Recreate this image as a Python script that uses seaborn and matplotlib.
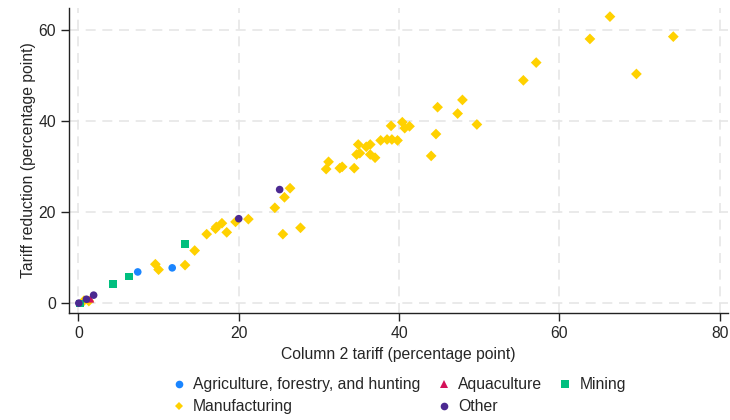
import matplotlib
matplotlib.use("Agg")
import matplotlib.pyplot as plt
import seaborn as sns
import pandas as pd
from matplotlib.lines import Line2D

# Column 2 tariff (x) vs tariff reduction (y), by sector
MANUF_X = [0.7, 1.3, 9.6, 10.0, 13.3, 14.5, 16.0, 17.1, 17.2, 17.9, 18.5, 19.6,
           21.2, 24.5, 25.5, 25.7, 26.4, 27.7, 30.9, 31.2, 32.6, 32.9, 34.4, 34.7,
           35.1, 34.9, 35.9, 36.4, 36.4, 37.0, 37.7, 38.5, 39.1, 39.8, 39.0, 40.4,
           40.7, 41.3, 44.0, 44.6, 44.8, 47.3, 47.9, 49.7, 55.5, 57.1, 63.8, 66.3,
           69.6, 74.2]
MANUF_Y = [0.6, 0.5, 8.6, 7.4, 8.4, 11.6, 15.2, 16.4, 16.8, 17.6, 15.6, 17.9,
           18.5, 21.0, 15.2, 23.3, 25.3, 16.6, 29.5, 31.1, 29.7, 30.0, 29.7, 32.7,
           33.0, 34.9, 34.4, 34.9, 32.7, 32.0, 35.8, 36.0, 36.0, 35.8, 39.0, 39.8,
           38.5, 38.9, 32.4, 37.2, 43.1, 41.7, 44.7, 39.3, 49.0, 52.9, 58.1, 63.0,
           50.4, 58.6]
AGRI_X = [7.4, 11.7]
AGRI_Y = [6.9, 7.8]
AQUA_X = [1.5]
AQUA_Y = [1.0]
MINING_X = [0.2, 4.3, 6.3, 13.3]
MINING_Y = [0.0, 4.2, 5.9, 13.0]
OTHER_X = [0.05, 1.0, 1.9, 20.0, 25.1]
OTHER_Y = [0.05, 0.9, 1.8, 18.6, 25.0]

SECTORS = ["Agriculture, forestry, and hunting", "Aquaculture", "Mining",
           "Manufacturing", "Other"]
COLORS = {
    "Agriculture, forestry, and hunting": "#1a85ff",
    "Aquaculture": "#d41159",
    "Mining": "#00bf7f",
    "Manufacturing": "#ffd100",
    "Other": "#4b2991",
}
MARKERS = {
    "Agriculture, forestry, and hunting": "o",
    "Aquaculture": "^",
    "Mining": "s",
    "Manufacturing": "D",
    "Other": "o",
}

# manufacturing first so the others sit on top
frames = [
    pd.DataFrame({"x": MANUF_X, "y": MANUF_Y, "sector": "Manufacturing"}),
    pd.DataFrame({"x": AGRI_X, "y": AGRI_Y, "sector": SECTORS[0]}),
    pd.DataFrame({"x": AQUA_X, "y": AQUA_Y, "sector": "Aquaculture"}),
    pd.DataFrame({"x": MINING_X, "y": MINING_Y, "sector": "Mining"}),
    pd.DataFrame({"x": OTHER_X, "y": OTHER_Y, "sector": "Other"}),
]
df = pd.concat(frames, ignore_index=True)

sns.set_style("white")
plt.rcParams["font.family"] = ["Liberation Sans", "DejaVu Sans"]

fig = plt.figure(figsize=(7.3, 4.2), dpi=100)
ax = fig.add_axes([0.095, 0.255, 0.902, 0.726])

sns.scatterplot(data=df, x="x", y="y", hue="sector", style="sector",
                palette=COLORS, markers=MARKERS, s=30, linewidth=0,
                legend=False, ax=ax, zorder=3)

ax.set_xlim(-1.13, 81)
ax.set_ylim(-2.1, 64.9)
ax.set_xticks([0, 20, 40, 60, 80])
ax.set_yticks([0, 20, 40, 60])
ax.grid(True, color="#e6e6e6", linestyle=(0, (6, 4)), linewidth=1.2)
ax.set_axisbelow(True)
for side in ["top", "right"]:
    ax.spines[side].set_visible(False)
for side in ["left", "bottom"]:
    ax.spines[side].set_color("#222222")
    ax.spines[side].set_linewidth(1.0)
ax.tick_params(axis="both", direction="out", length=6, width=1,
               color="#222222", labelsize=11.3, left=True, bottom=True)
ax.set_xlabel("Column 2 tariff (percentage point)", fontsize=11.3)
ax.set_ylabel("Tariff reduction (percentage point)", fontsize=11.3, labelpad=2)

# legend rows: Agri, Aqua, Mining / Manufacturing, Other
order = [SECTORS[0], "Manufacturing", "Aquaculture", "Other", "Mining"]
handles = [Line2D([], [], linestyle="none", marker=MARKERS[k],
                  markerfacecolor=COLORS[k], markeredgewidth=0,
                  markersize=5.5 if MARKERS[k] != "D" else 4.5, label=k)
           for k in order]
ax.legend(handles=handles, loc="upper center", bbox_to_anchor=(0.501, -0.165),
          ncol=3, frameon=False, fontsize=11.3, handlelength=0.8,
          handletextpad=0.5, columnspacing=1.1, labelspacing=0.45)

fig.savefig("out.png", dpi=100)
